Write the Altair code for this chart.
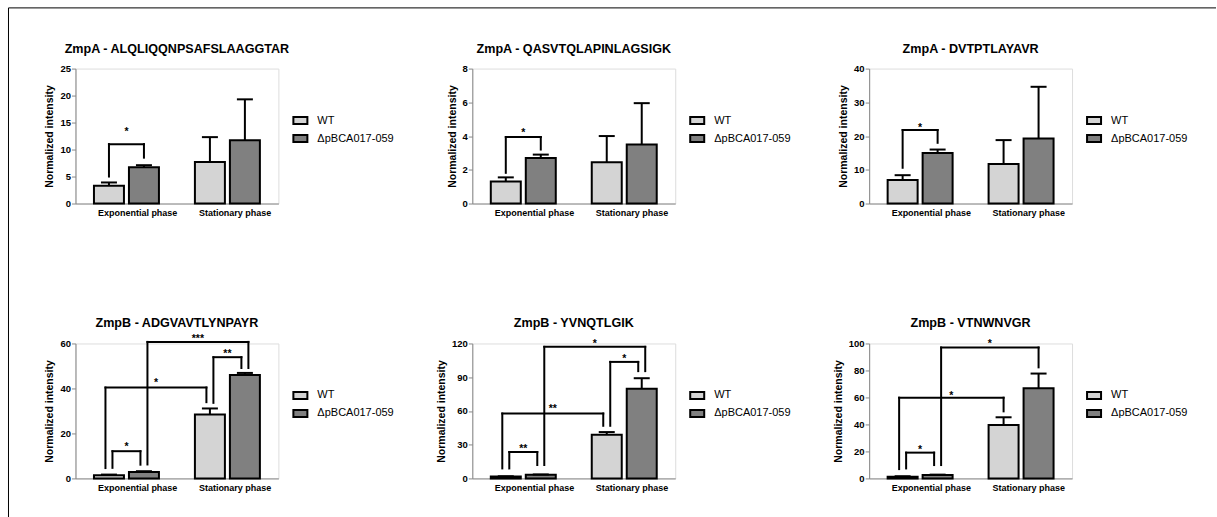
import altair as alt
import pandas as pd

# ---------------------------------------------------------------- data
titles = [
    "ZmpA - ALQLIQQNPSAFSLAAGGTAR",
    "ZmpA - QASVTQLAPINLAGSIGK",
    "ZmpA - DVTPTLAYAVR",
    "ZmpB - ADGVAVTLYNPAYR",
    "ZmpB - YVNQTLGIK",
    "ZmpB - VTNWNVGR",
]
phases = ["Exponential phase", "Stationary phase"]
genotypes = ["WT", "ΔpBCA017-059"]
genotype_colors = ["#d4d4d4", "#808080"]

# mean normalized intensity, one value per peptide panel
wt_exponential = [3.3, 1.3, 7.0, 1.4, 1.6, 1.3]
mut_exponential = [6.7, 2.7, 15.0, 2.8, 3.2, 2.5]
wt_stationary = [7.7, 2.45, 11.7, 28.4, 38.8, 39.6]
mut_stationary = [11.7, 3.5, 19.3, 46.0, 79.7, 66.9]

# upper error bar (SEM)
wt_exponential_err = [0.6, 0.25, 1.4, 0.3, 0.3, 0.3]
mut_exponential_err = [0.4, 0.2, 1.0, 0.4, 0.3, 0.3]
wt_stationary_err = [4.6, 1.55, 7.1, 2.7, 2.4, 5.7]
mut_stationary_err = [7.6, 2.45, 15.3, 0.9, 9.4, 10.8]

# y axis extent and tick step
y_max = [25, 8, 40, 60, 120, 100]
y_step = [5, 2, 10, 20, 30, 20]

# significance brackets:
# (bar a, bar b, bracket height, end of leg a, end of leg b, label, label height)
# bars: 0 = WT/exponential, 1 = mutant/exponential, 2 = WT/stationary, 3 = mutant/stationary
sig_alqliq = [(0, 1, 11.0, 5.0, 8.5, "*", 12.65)]
sig_qasvtq = [(0, 1, 3.94, 1.82, 3.2, "*", 4.03)]
sig_dvtptl = [(0, 1, 21.8, 10.6, 18.0, "*", 21.6)]
sig_adgvav = [
    (0, 1, 12.1, 4.7, 6.1, "*", 12.8),
    (0, 2, 40.4, 4.6, 33.9, "*", 41.0),
    (2, 3, 53.9, 33.6, 49.1, "**", 53.8),
    (1, 3, 60.7, 6.2, 49.1, "***", 60.5),
]
sig_yvnqtl = [
    (0, 1, 23.5, 8.9, 11.9, "**", 23.9),
    (0, 2, 57.7, 8.9, 46.8, "**", 58.8),
    (2, 3, 103.6, 46.8, 95.4, "*", 103.6),
    (1, 3, 117.0, 11.9, 95.4, "*", 117.0),
]
sig_vtnwnv = [
    (0, 1, 19.1, 7.4, 9.9, "*", 19.1),
    (0, 2, 59.8, 6.9, 49.7, "*", 59.1),
    (1, 3, 97.0, 9.9, 82.3, "*", 97.2),
]
brackets = [sig_alqliq, sig_qasvtq, sig_dvtptl, sig_adgvav, sig_yvnqtl, sig_vtnwnv]

# ---------------------------------------------------------------- layout
FONT = "Liberation Sans"
PLOT_W, PLOT_H = 203, 135
X_DOMAIN = [-0.505, 1.505]
UNIT = (X_DOMAIN[1] - X_DOMAIN[0]) / PLOT_W   # x data units per pixel
BAR_STEP = 17.5 * UNIT                        # bar centre distance from group centre
BAR_HALF = 15 * UNIT
CAP_HALF = 8 * UNIT
LEG_SHIFT = 3.5 * UNIT                        # separation of two legs on one bar


def bar_center(b):
    return b // 2 + (b % 2 - 0.5) * 2 * BAR_STEP


def leg_shifts(brs):
    """Spread the legs of brackets that meet on the same bar so they nest."""
    ends = {}
    for k, (a, b, *_rest) in enumerate(brs):
        ends.setdefault(a, []).append((1.0 / (b - a), k, 0))
        ends.setdefault(b, []).append((1.0 / (a - b), k, 1))
    shift = {}
    for legs in ends.values():
        legs.sort()
        n = len(legs)
        for i, (_key, k, side) in enumerate(legs):
            shift[(k, side)] = 0.0 if n == 1 else (i - (n - 1) / 2) * 2 * LEG_SHIFT
    return shift


def panel(p):
    means = [wt_exponential[p], mut_exponential[p], wt_stationary[p], mut_stationary[p]]
    errs = [wt_exponential_err[p], mut_exponential_err[p],
            wt_stationary_err[p], mut_stationary_err[p]]
    bars = pd.DataFrame({
        "phase": [phases[b // 2] for b in range(4)],
        "genotype": [genotypes[b % 2] for b in range(4)],
        "mean": means,
        "top": [m + e for m, e in zip(means, errs)],
        "xc": [bar_center(b) for b in range(4)],
    })
    bars["x0"] = bars["xc"] - BAR_HALF
    bars["x1"] = bars["xc"] + BAR_HALF
    bars["c0"] = bars["xc"] - CAP_HALF
    bars["c1"] = bars["xc"] + CAP_HALF

    shift = leg_shifts(brackets[p])
    segs, labels = [], []
    for k, (a, b, h, ya, yb, lab, ly) in enumerate(brackets[p]):
        xa = bar_center(a) + shift[(k, 0)]
        xb = bar_center(b) + shift[(k, 1)]
        segs.append({"x": xa, "x2": xa, "y": ya, "y2": h})
        segs.append({"x": xb, "x2": xb, "y": yb, "y2": h})
        segs.append({"x": xa, "x2": xb, "y": h, "y2": h})
        labels.append({"x": (xa + xb) / 2, "y": ly, "label": lab})
    segs = pd.DataFrame(segs)
    labels = pd.DataFrame(labels)

    x_scale = alt.Scale(domain=X_DOMAIN, nice=False, zero=False)
    y_scale = alt.Scale(domain=[0, y_max[p]], nice=False, zero=True)

    x_axis = alt.Axis(
        values=[0, 1],
        labelExpr=f"datum.value < 0.5 ? '{phases[0]}' : '{phases[1]}'",
        ticks=False, labelAlign="left", labelOffset=-29, labelFlush=False,
        labelPadding=5, labelFontSize=9, labelFontWeight="bold",
        grid=False, title=None,
    )
    y_axis = alt.Axis(
        values=list(range(0, y_max[p] + 1, y_step[p])),
        title="Normalized intensity", tickSize=4, labelPadding=1,
        labelFontSize=9.5, labelFontWeight="bold",
        titleFontSize=10.5, titleFontWeight="bold", titlePadding=5, grid=False,
    )
    legend = alt.Legend(
        orient="none", legendX=216, legendY=43, title=None,
        symbolType="M-0.875,-0.44H0.875V0.44H-0.875Z", symbolSize=256,
        symbolStrokeColor="black", symbolStrokeWidth=2, symbolOpacity=1,
        labelFontSize=11, labelFont=FONT, labelColor="black",
        labelOffset=8, rowPadding=1,
    )

    def xq(field):
        return alt.X(field, type="quantitative", scale=x_scale, axis=x_axis)

    def yq(field):
        return alt.Y(field, type="quantitative", scale=y_scale, axis=y_axis)

    bar_layer = alt.Chart(bars).mark_bar(stroke="black", strokeWidth=2, opacity=1).encode(
        x=xq("x0"), x2="x1:Q",
        y=yq("mean"), y2=alt.datum(0),
        color=alt.Color("genotype:N",
                        scale=alt.Scale(domain=genotypes, range=genotype_colors),
                        legend=legend),
    )
    whisker = alt.Chart(bars).mark_rule(color="black", strokeWidth=2).encode(
        x=xq("xc"), y=yq("mean"), y2="top:Q",
    )
    cap = alt.Chart(bars).mark_rule(color="black", strokeWidth=2).encode(
        x=xq("c0"), x2="c1:Q", y=yq("top"),
    )
    bracket_layer = alt.Chart(segs).mark_rule(
        color="black", strokeWidth=2, strokeCap="square"
    ).encode(
        x=xq("x"), x2="x2:Q", y=yq("y"), y2="y2:Q",
    )
    star_layer = alt.Chart(labels).mark_text(
        fontSize=10.5, fontWeight="bold", font=FONT, color="black",
        baseline="alphabetic", align="center",
    ).encode(
        x=xq("x"), y=yq("y"), text="label:N",
    )
    title_layer = alt.Chart(pd.DataFrame({"title": [titles[p]]})).mark_text(
        fontSize=12.6, fontWeight="bold", font=FONT, color="black",
        baseline="alphabetic", align="center",
    ).encode(
        x=alt.value(PLOT_W / 2), y=alt.value(-16), text="title:N",
    )
    layers = [bar_layer, whisker, cap, bracket_layer, star_layer, title_layer]

    if p == 0:
        # figure frame along the top and left edges
        frame = pd.DataFrame({"k": [0]})
        layers.append(alt.Chart(frame).mark_rule(color="black", strokeWidth=1).encode(
            x=alt.value(-67), x2=alt.value(1141),
            y=alt.value(-60.7), y2=alt.value(-60.7)))
        layers.append(alt.Chart(frame).mark_rule(color="black", strokeWidth=1).encode(
            x=alt.value(-67), x2=alt.value(-67),
            y=alt.value(-60.7), y2=alt.value(449)))

    return alt.layer(*layers).properties(width=PLOT_W, height=PLOT_H)


chart = alt.concat(
    *[panel(p) for p in range(6)],
    columns=3, spacing={"row": 140, "column": 194}, bounds="flush",
).resolve_scale(
    color="independent", x="independent", y="independent"
).resolve_legend(
    color="independent"
).properties(
    padding={"left": 7.5, "top": 6.5, "right": 0, "bottom": 0},
    background="white",
).configure_view(
    strokeWidth=0, stroke="transparent"
).configure_axis(
    domainColor="black", domainWidth=1.5, tickColor="black", tickWidth=1.5,
    labelColor="black", titleColor="black", labelFont=FONT, titleFont=FONT,
).configure(font=FONT)

chart.save("out.html", embed_options={"renderer": "svg", "actions": False})
